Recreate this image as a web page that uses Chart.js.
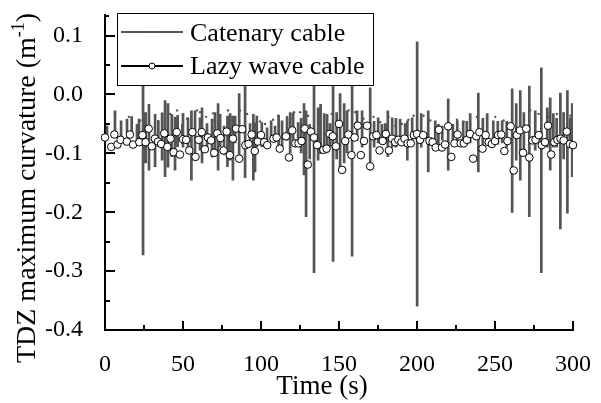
<!DOCTYPE html>
<html>
<head>
<meta charset="utf-8">
<script src="https://cdn.jsdelivr.net/npm/chart.js@4.4.0/dist/chart.umd.min.js"></script>
<style>
  html, body { margin: 0; padding: 0; background: #fff; }
</style>
</head>
<body>
<canvas id="curvChart" width="601" height="403"></canvas>
<script>
const serif = '"Liberation Serif", serif';
const catColor = "#555";

const xTicks = [0, 50, 100, 150, 200, 250, 300];
const yTicks = [-0.4, -0.3, -0.2, -0.1, 0.0, 0.1];

// Lazy wave cable (open circles)
const lazyTime = [0, 4, 6, 8, 10, 14, 16, 18, 22, 24, 26, 28, 30, 32, 34, 36, 38, 40, 42, 44, 46, 48, 50,
  52, 54, 56, 58, 60, 62, 64, 66, 68, 70, 72, 74, 76, 78, 80, 82, 84, 86, 88, 90, 92, 94, 96, 98, 100, 102,
  104, 108, 110, 112, 116, 118, 120, 122, 124, 126, 128, 130, 132, 134, 136, 140, 142, 144, 146, 148, 150, 152, 154,
  156, 158, 160, 162, 164, 166, 168, 170, 172, 174, 176, 178, 180, 182, 184, 186, 188, 190, 192, 194, 196, 198, 200, 202, 204,
  208, 210, 212, 214, 216, 218, 220, 222, 224, 226, 228, 230, 232, 234, 236, 238, 240, 242, 244, 246, 248, 250, 252, 254, 256,
  258, 260, 262, 264, 266, 268, 270, 272, 274, 276, 278, 280, 282, 284, 286, 288, 290, 292, 294, 296, 298, 300];
const lazyValue = [-0.073, -0.089, -0.068, -0.085, -0.077, -0.080, -0.068, -0.085, -0.081, -0.069, -0.081, -0.058, -0.088, -0.075, -0.080, -0.084, -0.066, -0.089, -0.075, -0.098, -0.064, -0.102, -0.076,
  -0.077, -0.095, -0.064, -0.106, -0.077, -0.064, -0.093, -0.073, -0.078, -0.099, -0.066, -0.074, -0.095, -0.063, -0.103, -0.075, -0.058, -0.109, -0.059, -0.086, -0.084, -0.068, -0.096, -0.080, -0.069, -0.081,
  -0.086, -0.075, -0.073, -0.092, -0.071, -0.107, -0.061, -0.083, -0.083, -0.079, -0.058, -0.119, -0.063, -0.073, -0.086, -0.094, -0.092, -0.067, -0.071, -0.088, -0.050, -0.128, -0.079,
  -0.068, -0.103, -0.073, -0.053, -0.103, -0.079, -0.053, -0.122, -0.071, -0.069, -0.095, -0.079, -0.067, -0.095, -0.075, -0.081, -0.077, -0.081, -0.075, -0.083, -0.083, -0.069, -0.067, -0.077, -0.069,
  -0.079, -0.081, -0.090, -0.060, -0.090, -0.085, -0.054, -0.106, -0.083, -0.068, -0.083, -0.083, -0.077, -0.067, -0.109, -0.071, -0.064, -0.092, -0.069, -0.081, -0.084, -0.079, -0.069, -0.068, -0.096,
  -0.079, -0.054, -0.129, -0.069, -0.061, -0.099, -0.058, -0.107, -0.078, -0.077, -0.069, -0.086, -0.081, -0.053, -0.102, -0.081, -0.077, -0.075, -0.078, -0.063, -0.084, -0.086];

// Catenary cable: vertical excursions (time, upper, lower)
const spikeTime = [1.3, 6.4, 10.3, 14.1, 17.1, 20.5, 21.8, 24.4, 26.1, 28.2, 32.1, 34.2, 36.6, 38.5, 40.4, 42.8, 44.9, 46.6, 49.6, 50,
  53.2, 55.4, 57.7, 60.9, 62.2, 65.4, 68.6, 70.5, 72.5, 73.8, 76.3, 78.5, 80.2, 82, 83.4, 86, 89.8, 93, 95.1, 96.2, 97.3, 100.5,
  103.9, 106.5, 109, 111.3, 113.5, 116.7, 118.7, 120.6, 123.8, 125.7, 127.6, 128.9, 131.2, 134, 136.6, 138.2, 140.5, 142.4, 144.3, 146.2, 148.5, 150.7, 153.3,
  155.2, 158.4, 161.6, 164.8, 170, 172.5, 175.1, 177.5, 179.6, 181.3, 184.1, 186.5, 189.2, 192.4, 193.8, 196.9, 200.1, 202.7,
  207.2, 211.7, 213.7, 216.2, 220, 223, 225.8, 229.6, 231.9, 234.1, 239.3, 242.2, 245, 248.9, 251.8, 254.6, 257.5,
  261, 263.6, 266.2, 268.5, 272, 275.8, 279.7, 283.5, 285.4, 287.4, 289.5, 291.9, 294, 296.4, 298.3, 299.5];
const spikeHigh = [-0.053, -0.027, -0.044, -0.041, -0.037, -0.050, -0.041, 0.02, -0.030, -0.016, -0.033, -0.044, -0.032, -0.010, -0.015, -0.033, -0.038, -0.035, -0.050, -0.032,
  -0.039, -0.027, -0.027, -0.039, -0.022, -0.049, -0.041, -0.030, -0.015, -0.033, -0.053, -0.036, -0.032, -0.036, -0.036, 0.002, 0.02, -0.049, -0.033, -0.047, -0.036, -0.047,
  -0.056, -0.044, -0.053, -0.035, -0.044, -0.039, -0.030, -0.031, -0.047, -0.040, -0.015, -0.027, -0.050, 0.02, -0.022, -0.016, -0.032, -0.033, -0.049, 0.055, -0.030, 0.002, -0.015,
  -0.027, 0.045, -0.027, -0.027, 0.012, -0.045, -0.039, -0.050, -0.049, -0.027, -0.039, -0.040, -0.041, -0.049, -0.044, -0.039, 0.09, -0.032,
  -0.027, -0.044, -0.050, -0.053, -0.007, -0.050, -0.044, -0.044, -0.045, -0.032, 0.003, -0.040, -0.032, -0.044, -0.045, -0.044, -0.045,
  0.010, -0.015, 0.007, -0.030, 0.015, -0.027, 0.046, -0.022, -0.005, -0.032, -0.040, 0.003, -0.030, 0.007, -0.039, -0.015];
const spikeLow = [-0.069, -0.073, -0.083, -0.066, -0.069, -0.084, -0.075, -0.273, -0.117, -0.129, -0.123, -0.089, -0.112, -0.140, -0.124, -0.106, -0.129, -0.089, -0.084, -0.090,
  -0.100, -0.146, -0.112, -0.095, -0.117, -0.090, -0.107, -0.098, -0.129, -0.089, -0.103, -0.123, -0.112, -0.146, -0.083, -0.112, -0.142, -0.083, -0.146, -0.132, -0.089, -0.089,
  -0.083, -0.080, -0.081, -0.090, -0.090, -0.078, -0.100, -0.078, -0.075, -0.100, -0.137, -0.208, -0.110, -0.303, -0.112, -0.101, -0.095, -0.100, -0.090, -0.284, -0.110, -0.129, -0.117,
  -0.100, -0.275, -0.078, -0.090, -0.129, -0.090, -0.083, -0.085, -0.083, -0.106, -0.090, -0.090, -0.081, -0.078, -0.112, -0.083, -0.360, -0.090,
  -0.132, -0.090, -0.085, -0.078, -0.129, -0.085, -0.083, -0.078, -0.085, -0.083, -0.132, -0.090, -0.083, -0.078, -0.085, -0.083, -0.090,
  -0.201, -0.112, -0.146, -0.100, -0.208, -0.095, -0.303, -0.090, -0.129, -0.090, -0.090, -0.229, -0.110, -0.202, -0.083, -0.140];

// Catenary cable: isolated sample points
const dotTime = [1.3, 6.4, 15.4, 17.3, 22.5, 34, 36.6, 41.7, 46.2, 50, 52.6, 59, 60.9, 64.8, 69.3, 73.8, 78.9, 82.7, 86.6, 91.1,
  99.4, 102.6, 107.8, 111, 116.7, 121.2, 125.1, 130.2, 137.9, 145.4, 150.7, 156.1, 160.4, 165.7, 172.1, 176.4, 181.7, 186, 190.3, 194.5,
  197.8, 204.2, 208.5, 225.6, 229.8, 234.1, 238.4, 244.8, 250.2, 255.5, 260.9, 266.2, 272.6, 277.9, 284.3, 289.7, 294, 298.3];
const dotValue = [-0.050, -0.032, -0.038, -0.047, -0.044, -0.045, -0.032, -0.033, -0.027, -0.034, -0.041, -0.027, -0.030, -0.038, -0.032, -0.036, -0.027, -0.039, -0.027, -0.033,
  -0.046, -0.050, -0.043, -0.036, -0.038, -0.030, -0.030, -0.036, -0.033, -0.033, -0.019, -0.027, -0.030, -0.041, -0.038, -0.047, -0.038, -0.053, -0.050, -0.043,
  -0.036, -0.036, -0.044, -0.043, -0.047, -0.050, -0.038, -0.041, -0.038, -0.044, -0.033, -0.030, -0.027, -0.033, -0.038, -0.033, -0.033, -0.036];

const spikeData = [];
spikeTime.forEach((t, i) => {
  spikeData.push({ x: t, y: spikeHigh[i] }, { x: t, y: spikeLow[i] }, { x: t, y: null });
});
const dotData = dotTime.map((t, i) => ({ x: t, y: dotValue[i] }));
const lazyData = lazyTime.map((t, i) => ({ x: t, y: lazyValue[i] }));

// inward ticks, legend box, axis titles
const decor = {
  id: "decor",
  afterDatasetsDraw(chart) {
    const { ctx, chartArea: a, scales } = chart;
    const xs = scales.x, ys = scales.y;
    ctx.save();
    ctx.strokeStyle = "#000";
    ctx.lineWidth = 2;
    ctx.beginPath();
    for (let v = 0; v <= 300; v += 25) {
      const px = Math.round(xs.getPixelForValue(v));
      const len = v % 50 === 0 ? 9 : 5;
      ctx.moveTo(px, a.bottom);
      ctx.lineTo(px, a.bottom - len);
    }
    for (let k = -8; k <= 2; k++) {
      const py = Math.round(ys.getPixelForValue(k * 0.05));
      const len = k % 2 === 0 ? 10 : 5;
      ctx.moveTo(a.left, py);
      ctx.lineTo(a.left + len, py);
    }
    ctx.moveTo(a.left, a.top + 1);
    ctx.lineTo(a.left + 4, a.top + 1);
    ctx.stroke();

    // legend
    const lx = a.left + 12, ly = a.top - 2, lw = 256, lh = 72;
    ctx.fillStyle = "#fff";
    ctx.fillRect(lx, ly, lw, lh);
    ctx.lineWidth = 1;
    ctx.strokeStyle = "#000";
    ctx.strokeRect(lx + 0.5, ly + 0.5, lw, lh);

    const r1 = ly + 19, r2 = ly + 53;
    ctx.lineWidth = 2;
    ctx.strokeStyle = catColor;
    ctx.beginPath();
    ctx.moveTo(lx + 4, r1); ctx.lineTo(lx + 66, r1);
    ctx.stroke();
    ctx.fillStyle = catColor;
    ctx.beginPath(); ctx.arc(lx + 35, r1, 1.3, 0, Math.PI * 2); ctx.fill();

    ctx.strokeStyle = "#000";
    ctx.beginPath();
    ctx.moveTo(lx + 4, r2); ctx.lineTo(lx + 66, r2);
    ctx.stroke();
    ctx.lineWidth = 1;
    ctx.fillStyle = "#fff";
    ctx.beginPath(); ctx.arc(lx + 35, r2, 3, 0, Math.PI * 2); ctx.fill(); ctx.stroke();

    ctx.fillStyle = "#000";
    ctx.font = "26px " + serif;
    ctx.textAlign = "left";
    ctx.textBaseline = "alphabetic";
    ctx.fillText("Catenary cable", lx + 73, r1 + 9);
    ctx.fillText("Lazy wave cable", lx + 73, r2 + 8);

    // x title
    ctx.font = "27px " + serif;
    ctx.textAlign = "center";
    ctx.fillText("Time (s)", 322, 394);

    // y title with superscript
    ctx.translate(35, 188);
    ctx.rotate(-Math.PI / 2);
    ctx.textAlign = "left";
    const main = "TDZ maximum curvature (m";
    ctx.font = "28px " + serif;
    const w1 = ctx.measureText(main).width;
    const w3 = ctx.measureText(")").width;
    ctx.font = "18px " + serif;
    const w2 = ctx.measureText("-1").width;
    let sx = -(w1 + w2 + w3) / 2;
    ctx.font = "28px " + serif;
    ctx.fillText(main, sx, 0);
    sx += w1;
    ctx.font = "18px " + serif;
    ctx.fillText("-1", sx, -11);
    sx += w2;
    ctx.font = "28px " + serif;
    ctx.fillText(")", sx, 0);
    ctx.restore();
  }
};

function drawChart() {
  new Chart(document.getElementById("curvChart").getContext("2d"), {
    type: "line",
    data: {
      datasets: [
        { label: "Lazy wave cable", data: lazyData, showLine: false, order: 1, clip: 6,
          pointRadius: 3.8, pointBackgroundColor: "#fff", pointBorderColor: "#000", pointBorderWidth: 1 },
        { label: "Catenary cable dots", data: dotData, showLine: false, order: 2,
          pointRadius: 1.2, pointBackgroundColor: catColor, pointBorderWidth: 0 },
        { label: "Catenary cable", data: spikeData, order: 3, spanGaps: false,
          borderColor: catColor, borderWidth: 2.7, pointRadius: 0, tension: 0 }
      ]
    },
    options: {
      responsive: false,
      animation: false,
      events: [],
      layout: { padding: { left: 0, top: 15, right: 28, bottom: 0 } },
      plugins: { legend: { display: false }, tooltip: { enabled: false } },
      scales: {
        x: {
          type: "linear", min: 0, max: 300,
          afterBuildTicks: s => { s.ticks = xTicks.map(v => ({ value: v })); },
          afterFit: s => { s.height = 73; s.paddingLeft = 0; s.paddingRight = 0; },
          grid: { display: false },
          border: { display: true, color: "#000", width: 2 },
          ticks: { color: "#000", padding: 12, maxRotation: 0, font: { family: serif, size: 24 } }
        },
        y: {
          type: "linear", min: -0.4, max: 0.135,
          afterBuildTicks: s => { s.ticks = yTicks.map(v => ({ value: v })); },
          afterFit: s => { s.width = 105; s.paddingTop = 0; s.paddingBottom = 0; },
          grid: { display: false },
          border: { display: true, color: "#000", width: 2 },
          ticks: { color: "#000", padding: 14, font: { family: serif, size: 24 },
            callback: v => v.toFixed(1) }
        }
      }
    },
    plugins: [decor]
  });
}

Promise.all([
  document.fonts.load('24px "Liberation Serif"', "0123456789.-"),
  document.fonts.load('28px "Liberation Serif"', "TDZ maximum curvature Time")
]).then(drawChart, drawChart);
</script>
</body>
</html>
